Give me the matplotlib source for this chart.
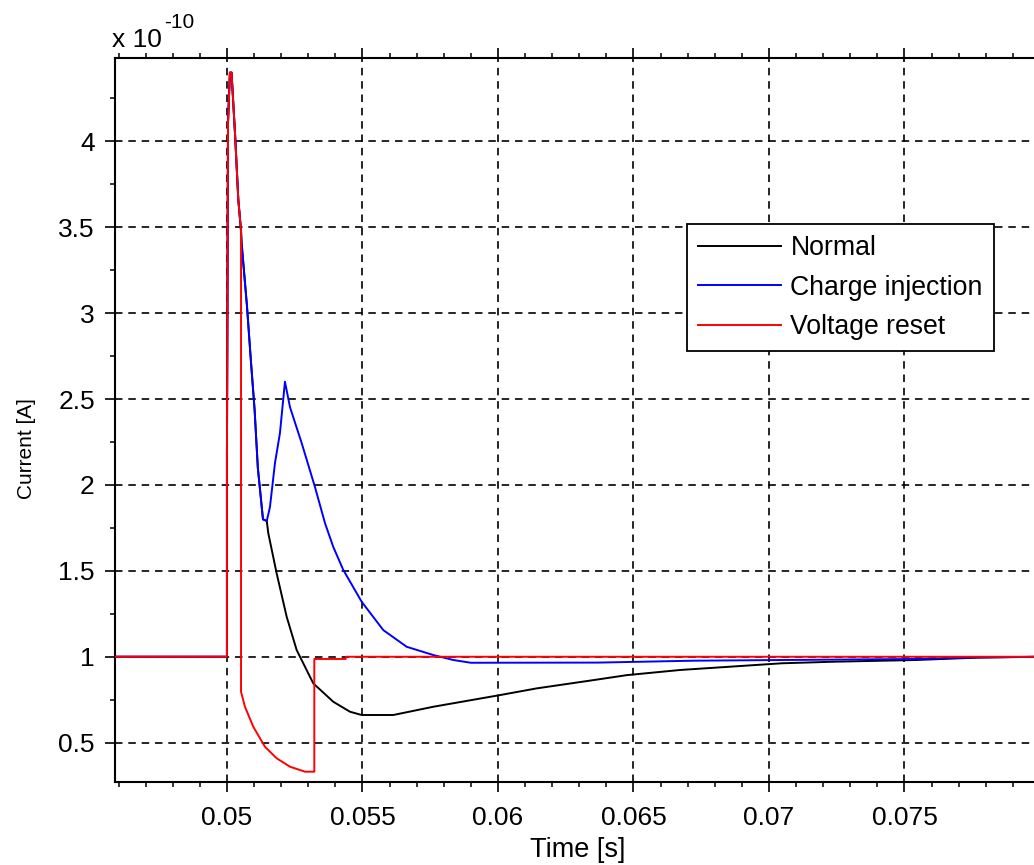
import matplotlib
matplotlib.use("Agg")
import matplotlib.pyplot as plt
from matplotlib.ticker import MultipleLocator, FixedLocator

# Current traces in units of 1e-10 A, time in seconds
normal_time = [0.0450, 0.05000, 0.05000, 0.05004, 0.05011, 0.05017, 0.05030, 0.05042, 0.05052,
               0.05054, 0.05074, 0.05089, 0.05102, 0.05114, 0.05133, 0.05147,
               0.051525, 0.051835, 0.052204, 0.052573, 0.053186, 0.053924, 0.05454, 0.054972,
               0.056139, 0.057615, 0.060078, 0.061432, 0.063522, 0.064755, 0.066722, 0.068937,
               0.070476, 0.07237, 0.0754, 0.0777, 0.0800]
normal_current = [1.0, 1.0, 2.17, 4.11, 4.40, 4.40, 4.04, 3.66, 3.48,
                  3.41, 3.04, 2.71, 2.44, 2.10, 1.80, 1.79,
                  1.72, 1.485, 1.233, 1.039, 0.845, 0.738, 0.680, 0.661,
                  0.661, 0.709, 0.777, 0.816, 0.864, 0.893, 0.923, 0.946,
                  0.962, 0.971, 0.981, 0.995, 1.0]

injection_time = [0.0450, 0.05000, 0.05000, 0.05004, 0.05011, 0.05017, 0.05030, 0.05042, 0.05052,
                  0.05054, 0.05074, 0.05089, 0.05102, 0.05114, 0.05133, 0.05147,
                  0.051587, 0.051772, 0.051956, 0.052141, 0.052326, 0.052757, 0.053248,
                  0.053618, 0.053924, 0.054294, 0.054972, 0.05577, 0.056633, 0.057615,
                  0.058354, 0.0590, 0.0637, 0.0672, 0.0754, 0.0777, 0.0800]
injection_current = [1.0, 1.0, 2.17, 4.11, 4.40, 4.40, 4.04, 3.66, 3.48,
                     3.41, 3.04, 2.71, 2.44, 2.10, 1.80, 1.79,
                     1.871, 2.127, 2.302, 2.601, 2.453, 2.244, 1.988,
                     1.778, 1.639, 1.505, 1.320, 1.155, 1.058, 1.010,
                     0.981, 0.965, 0.966, 0.977, 0.987, 0.996, 1.0]

reset_time = [0.0450, 0.05000, 0.05000, 0.05004, 0.05011, 0.05017, 0.05030, 0.05042, 0.05052,
              0.05052, 0.050665, 0.050971, 0.051403, 0.051835, 0.052327, 0.052881, 0.053224,
              0.053224, 0.05438, 0.05440, 0.0800]
reset_current = [1.0, 1.0, 2.17, 4.11, 4.40, 4.40, 4.04, 3.66, 3.48,
                 0.796, 0.709, 0.593, 0.476, 0.409, 0.360, 0.331, 0.331,
                 0.987, 0.987, 1.0, 1.0]

series_labels = ["Normal", "Charge injection", "Voltage reset"]
series_colors = ["#000000", "#0000ff", "#ff0000"]

x_ticks = [0.05, 0.055, 0.06, 0.065, 0.07, 0.075]
x_tick_labels = ["0.05", "0.055", "0.06", "0.065", "0.07", "0.075"]
y_ticks = [0.5, 1, 1.5, 2, 2.5, 3, 3.5, 4]
y_tick_labels = ["0.5", "1", "1.5", "2", "2.5", "3", "3.5", "4"]

plt.rcParams["font.family"] = ["Liberation Sans", "DejaVu Sans"]

W, H = 1034, 865
fig = plt.figure(figsize=(W / 100, H / 100), dpi=100)
fig.patch.set_facecolor("white")

# axes box in pixels: left 115, right 1040 (runs past the right edge), top 58, bottom 782
left, right, top, bottom = 115, 1040, 58, 782
ax = fig.add_axes([left / W, 1 - bottom / H, (right - left) / W, (bottom - top) / H])

for t, c, lab, col in zip([normal_time, injection_time, reset_time],
                          [normal_current, injection_current, reset_current],
                          series_labels, series_colors):
    ax.plot(t, c, color=col, lw=1.4, label=lab, zorder=3)

ax.set_xlim(0.04587, 0.0800)
ax.set_ylim(0.271, 4.485)

ax.xaxis.set_major_locator(FixedLocator(x_ticks))
ax.set_xticklabels(x_tick_labels)
ax.yaxis.set_major_locator(FixedLocator(y_ticks))
ax.set_yticklabels(y_tick_labels)
ax.xaxis.set_minor_locator(MultipleLocator(0.001))
ax.yaxis.set_minor_locator(MultipleLocator(0.25))

ax.tick_params(axis="both", which="major", direction="out", length=7.5, width=1.2,
               labelsize=19, colors="black")
ax.tick_params(axis="x", which="major", pad=10)
ax.tick_params(axis="y", which="major", pad=7)
ax.tick_params(axis="both", which="minor", direction="out", length=3.8, width=1.1)
ax.tick_params(axis="x", which="both", top=True)

for s in ax.spines.values():
    s.set_linewidth(1.5)
    s.set_color("black")

ax.grid(True, which="major", color="black", lw=1.2, linestyle=(0, (4.5, 3.5)), zorder=1)
ax.set_axisbelow(True)

ax.set_xlabel("Time [s]", fontsize=19.5, labelpad=5)

# y axis title and scale factor
fig.text(27 / W, 1 - 449 / H, "Current [A]", fontsize=15, rotation=90,
         ha="center", va="center")
fig.text(112 / W, 1 - 47 / H, "x 10", fontsize=19, ha="left", va="baseline")
fig.text(164 / W, 1 - 28 / H, "-10", fontsize=15, ha="left", va="baseline")

leg = ax.legend(loc="upper left", bbox_to_anchor=(687 / W, 1 - 224 / H),
                bbox_transform=fig.transFigure, borderaxespad=0, fontsize=19.2,
                frameon=True, fancybox=False, framealpha=1, edgecolor="black",
                handlelength=3.1, handletextpad=0.36, labelspacing=0.5,
                borderpad=0.42)
leg.get_frame().set_linewidth(1.3)
leg.set_zorder(5)

fig.savefig("out.png", dpi=100)
